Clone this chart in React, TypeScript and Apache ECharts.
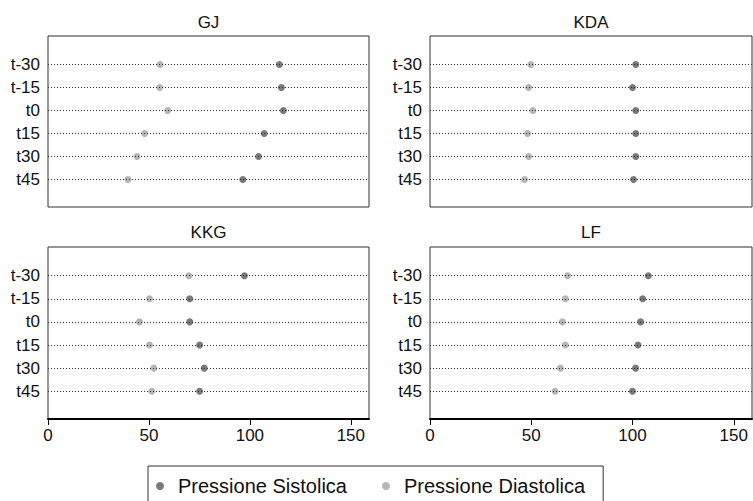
import React, { useEffect, useRef } from 'react';
import * as echarts from 'echarts';

const subjects = ['GJ', 'KDA', 'KKG', 'LF'];
const timeLabels = ['t-30', 't-15', 't0', 't15', 't30', 't45'];
const sistolicaGJ = [114.6, 115.6, 116.6, 107.1, 104.3, 96.5];
const diastolicaGJ = [55.5, 55.3, 59.3, 47.9, 44.1, 39.6];
const sistolicaKDA = [101.6, 100.0, 101.6, 101.6, 101.6, 100.5];
const diastolicaKDA = [49.8, 48.7, 50.8, 48.2, 48.7, 46.7];
const sistolicaKKG = [97.3, 70.2, 70.2, 75.1, 77.4, 75.1];
const diastolicaKKG = [69.7, 50.3, 45.3, 50.3, 52.4, 51.4];
const sistolicaLF = [107.8, 105.0, 104.0, 102.7, 101.5, 100.0];
const diastolicaLF = [67.9, 66.8, 65.4, 66.8, 64.4, 61.8];
const seriesNames = ['Pressione Sistolica', 'Pressione Diastolica'];

const FONT = 'Liberation Sans, Arial, sans-serif';

export default function App() {
  const ref = useRef<HTMLDivElement>(null);
  useEffect(() => {
    document.body.style.margin = '0';
    if (!ref.current) return;
    const chart = echarts.init(ref.current, null, { renderer: 'svg' });
    const sist = [sistolicaGJ, sistolicaKDA, sistolicaKKG, sistolicaLF];
    const diast = [diastolicaGJ, diastolicaKDA, diastolicaKKG, diastolicaLF];
    const rects = [
      [48, 36, 321, 171],
      [430, 36, 322, 171],
      [48, 247, 321, 172],
      [430, 247, 322, 172],
    ];
    const grids = rects.map(([l, t, w, h]) => ({
      left: l, top: t, width: w, height: h,
      show: true, borderColor: '#333', borderWidth: 1, backgroundColor: 'transparent',
    }));
    const xAxes = rects.map((_, i) => {
      const bottom = i >= 2;
      return {
        type: 'value', gridIndex: i, min: 0, max: 159, interval: 50,
        splitLine: { show: false },
        axisLine: { show: bottom, onZero: false, lineStyle: { color: '#000', width: 2 } },
        axisTick: { show: bottom, length: 6, lineStyle: { color: '#000', width: 1 } },
        axisLabel: { show: bottom, fontSize: 17, color: '#111', fontFamily: FONT, margin: 8 },
      };
    });
    const yAxes = rects.map((_, i) => ({
      type: 'value', gridIndex: i, inverse: true, min: -1.24, max: 6.2,
      splitLine: { show: false },
      axisLine: { show: false },
      axisTick: { show: false },
      axisLabel: {
        customValues: timeLabels.map((_, k) => k),
        formatter: (v: number) => timeLabels[Math.round(v)] ?? '',
        fontSize: 17, color: '#111', fontFamily: FONT, margin: 8,
      },
    }));
    const series: any[] = [];
    rects.forEach((_, i) => {
      series.push({
        type: 'scatter', xAxisIndex: i, yAxisIndex: i, data: [], silent: true, z: 1,
        markLine: {
          silent: true, symbol: ['none', 'none'], label: { show: false },
          lineStyle: { type: [1, 2], color: '#333', width: 1 },
          emphasis: { disabled: true },
          data: timeLabels.map((_, k) => ({ yAxis: k })),
        },
      });
      series.push({
        name: seriesNames[0], type: 'scatter', xAxisIndex: i, yAxisIndex: i, z: 3,
        symbol: 'circle', symbolSize: 7, itemStyle: { color: '#575757' },
        data: sist[i].map((v, k) => [v, k]),
      });
      series.push({
        name: seriesNames[1], type: 'scatter', xAxisIndex: i, yAxisIndex: i, z: 3,
        symbol: 'circle', symbolSize: 7, itemStyle: { color: '#a3a3a3' },
        data: diast[i].map((v, k) => [v, k]),
      });
    });
    const titlePos = [[208.5, 22], [591, 22], [208.5, 232], [591, 232]];
    chart.setOption({
      animation: false,
      grid: grids,
      xAxis: xAxes,
      yAxis: yAxes,
      series,
      legend: {
        data: seriesNames,
        left: 148, top: 466,
        icon: 'circle', itemWidth: 8, itemHeight: 8, itemGap: 35,
        borderColor: '#333', borderWidth: 1, borderRadius: 0,
        padding: [10, 18, 30, 8],
        textStyle: { fontSize: 20, color: '#111', fontFamily: FONT, padding: [0, 0, 0, 9] },
      },
      graphic: subjects.map((s, i) => ({
        type: 'text', x: titlePos[i][0], y: titlePos[i][1],
        style: { text: s, textAlign: 'center', textVerticalAlign: 'middle', font: `17px ${FONT}`, fill: '#111' },
      })),
    });
    return () => chart.dispose();
  }, []);
  return <div ref={ref} style={{ width: 753, height: 501 }} />;
}
